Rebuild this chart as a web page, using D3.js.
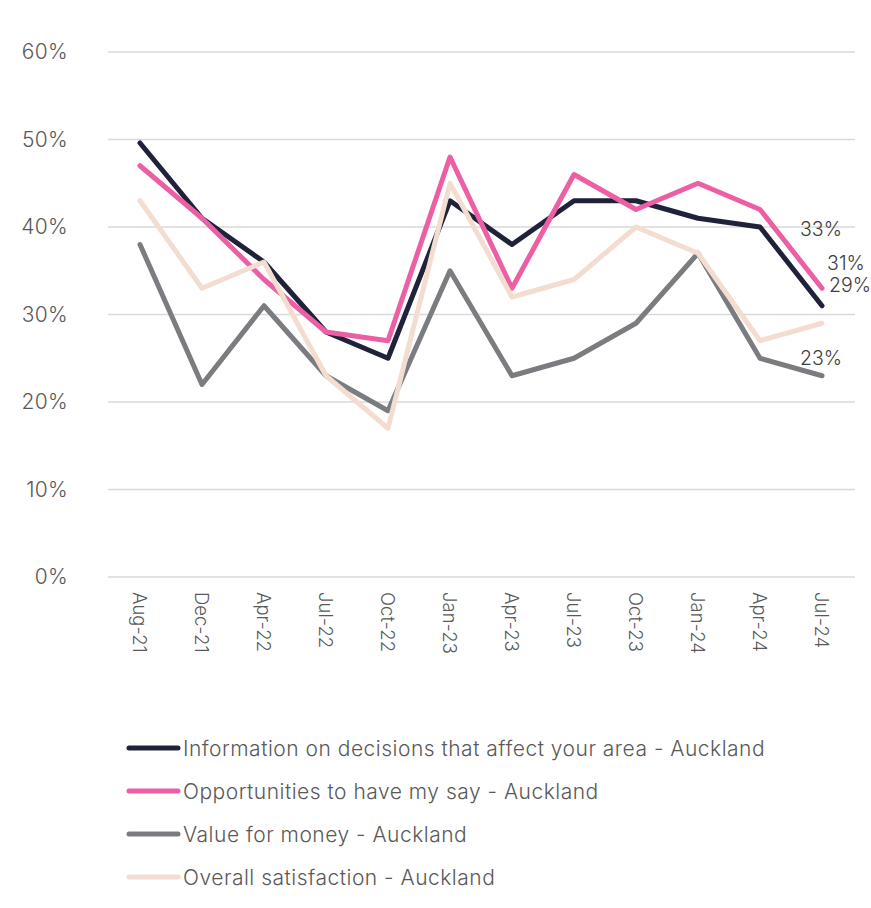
<!DOCTYPE html>
<html><head><meta charset="utf-8">
<script src="https://cdn.jsdelivr.net/npm/d3@7"></script>
<style>body{margin:0;background:#fff}svg{display:block}text{font-family:Inter,"Liberation Sans",sans-serif}</style>
</head><body>
<svg id="chart" width="871" height="908"></svg>
<script>
const categories = ["Aug-21","Dec-21","Apr-22","Jul-22","Oct-22","Jan-23","Apr-23","Jul-23","Oct-23","Jan-24","Apr-24","Jul-24"];
const seriesNames = [
  "Information on decisions that affect your area - Auckland",
  "Opportunities to have my say - Auckland",
  "Value for money - Auckland",
  "Overall satisfaction - Auckland"
];
const information = [49.6, 41, 36, 28, 25, 43, 38, 43, 43, 41, 40, 31];
const opportunities = [47, 41, 34, 28, 27, 48, 33, 46, 42, 45, 42, 33];
const valueForMoney = [38, 22, 31, 23, 19, 35, 23, 25, 29, 37, 25, 23];
const overall = [43, 33, 36, 23, 17, 45, 32, 34, 40, 37, 27, 29];
const yTicks = [0, 10, 20, 30, 40, 50, 60];

const colors = ["#20223a", "#ec5fa4", "#7b7c80", "#f3ddd0"];
const allSeries = [information, opportunities, valueForMoney, overall];
// end label offsets (style only)
const labelOffsets = [
  {dx: 24, dy: -43, anchor: "middle"},
  {dx: -1, dy: -59, anchor: "middle"},
  {dx: -1, dy: -18, anchor: "middle"},
  {dx: 7, dy: -38, anchor: "start"}
];
const FONT = "Inter, 'Liberation Sans', sans-serif";

const svg = d3.select("#chart");
const x = d3.scaleBand().domain(categories).range([109, 853]);
const y = d3.scaleLinear().domain([0, 60]).range([577, 52]);
const cx = c => x(c) + x.bandwidth() / 2;

// gridlines
svg.append("g").selectAll("line").data(yTicks).join("line")
  .attr("x1", 108).attr("x2", 855)
  .attr("y1", d => y(d)).attr("y2", d => y(d))
  .attr("stroke", "#d9d9d9").attr("stroke-width", 1.5);

// y axis labels
const yAxis = d3.axisLeft(y).tickValues(yTicks).tickFormat(d => d + "%").tickSize(0).tickPadding(0);
const ya = svg.append("g").attr("transform", "translate(68,0)").call(yAxis);
ya.select(".domain").remove();
ya.selectAll("text").attr("font-size", 21).attr("fill", "#595959")
  .attr("font-family", FONT).style("font-weight", 300).style("letter-spacing", "0.3px");

// x axis labels
const xAxis = d3.axisBottom(x).tickSize(0).tickPadding(0);
const xa = svg.append("g").attr("transform", "translate(0,577)").call(xAxis);
xa.select(".domain").remove();
xa.selectAll("text")
  .attr("font-size", 18.5).attr("fill", "#595959")
  .attr("font-family", FONT).style("font-weight", 300)
  .attr("text-anchor", "start").attr("dy", null).attr("y", 0)
  .attr("dominant-baseline", "central")
  .attr("transform", "translate(0,15) rotate(90)");

// lines
const line = d3.line().x((d, i) => cx(categories[i])).y(d => y(d));
allSeries.forEach((s, k) => {
  svg.append("path").datum(s).attr("d", line)
    .attr("fill", "none").attr("stroke", colors[k]).attr("stroke-width", 5)
    .attr("stroke-linejoin", "round").attr("stroke-linecap", "round");
});

// end labels
allSeries.forEach((s, k) => {
  const last = s.length - 1;
  const o = labelOffsets[k];
  svg.append("text")
    .attr("x", cx(categories[last]) + o.dx)
    .attr("y", y(s[last]) + o.dy)
    .attr("text-anchor", o.anchor).attr("dominant-baseline", "central")
    .attr("font-size", 19.5).attr("fill", "#404040").style("font-weight", 300)
    .text(Math.round(s[last]) + "%");
});

// legend
const legendY = [748, 791, 834, 877];
const lg = svg.append("g");
seriesNames.forEach((n, k) => {
  lg.append("line").attr("x1", 129).attr("x2", 178)
    .attr("y1", legendY[k]).attr("y2", legendY[k])
    .attr("stroke", colors[k]).attr("stroke-width", 5).attr("stroke-linecap", "round");
  lg.append("text").attr("x", 183).attr("y", legendY[k])
    .attr("dominant-baseline", "central").attr("font-size", 21)
    .style("letter-spacing", "0.5px")
    .attr("fill", "#595959").style("font-weight", 300).text(n);
});
</script>
</body></html>
